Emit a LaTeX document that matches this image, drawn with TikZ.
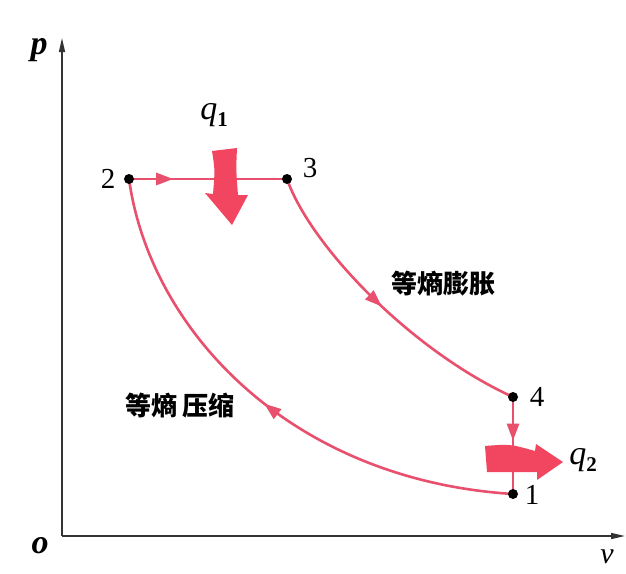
\documentclass[tikz,border=0pt]{standalone}
\usepackage{fontspec}
\setmainfont{Liberation Serif}
\newfontfamily\cjk{Noto Sans CJK SC}
\usetikzlibrary{arrows.meta,decorations.markings}
\definecolor{cycleline}{HTML}{E8506E}
\definecolor{heat}{HTML}{F2455F}
\definecolor{axisline}{HTML}{333333}

\tikzset{
  cyc/.style={cycleline,line width=2.6pt},
  midarrow/.style={postaction={decorate},decoration={markings,
    mark=at position #1 with {\arrow{Triangle[length=17pt,width=12pt]}}}},
  dot/.style={circle,fill=black,inner sep=0pt,minimum size=10pt},
  ptlabel/.style={inner sep=1pt,font=\fontsize{29}{29}\selectfont},
  heatlabel/.style={inner sep=1pt,font=\fontsize{34}{34}\selectfont},
  proc/.style={inner sep=0pt,font=\cjk\bfseries\fontsize{26}{26}\selectfont},
  axislabel/.style={inner sep=0pt,font=\fontsize{34}{34}\selectfont},
}
\newcommand{\heatq}[1]{\textit{q}\raisebox{-7pt}{\fontsize{21}{21}\selectfont\textbf{#1}}}

\begin{document}
\begin{tikzpicture}[x=1pt,y=-1pt,line join=round]
  \useasboundingbox (0,0) rectangle (626,573);
  \fill[white] (0,0) rectangle (626,573);
  % ---- axes ----
  \coordinate (o) at (62,536);
  \coordinate (ptip) at (62,38);
  \coordinate (vtip) at (625,536);
  \draw[axisline,line width=1.4pt,-{Triangle[length=14pt,width=6pt]}] (o) -- (ptip);
  \draw[axisline,line width=1.4pt,-{Triangle[length=14pt,width=6pt]}] (o) -- (vtip);
  \node[axislabel] (plab) at (39,50) {\textbf{\textit{p}}};
  \node[axislabel] (olab) at (40,546) {\textbf{\textit{o}}};
  \node[axislabel,font=\fontsize{30}{30}\selectfont] (vlab) at (607,557) {\textit{v}};

  % ---- state points ----
  \coordinate (p1) at (513,494);
  \coordinate (p2) at (129,179);
  \coordinate (p3) at (287,179);
  \coordinate (p4) at (513,397);

  % ---- cycle ----
  \draw[cyc,midarrow=0.28] (p2) -- (p3);
  \draw[cyc,midarrow=0.5] (p3) .. controls (310,245) and (410,350) .. (p4);
  \draw[cyc,midarrow=0.45] (p4) -- (p1);
  \draw[cyc,midarrow=0.5] (p1) .. controls (290,480) and (150,330) .. (p2);

  % ---- heat in / heat out ----
  \fill[heat] (212,151) .. controls (215,170) .. (213,194) -- (205,193)
    -- (232,225) -- (248,195) -- (238,195) .. controls (236,170) .. (237,148) -- cycle;
  \fill[heat] (485,446) .. controls (510,444) .. (535,451) -- (536,444)
    -- (563,462) -- (537,480) -- (537,472) -- (487,472) -- cycle;

  % ---- points and labels ----
  \foreach \i in {1,...,4}{
    \node[dot] (d\i) at (p\i) {};
  }
  \node[ptlabel] (l1) at (532,495) {1};
  \node[ptlabel] (l2) at (108,179) {2};
  \node[ptlabel] (l3) at (310,168) {3};
  \node[ptlabel] (l4) at (537,397) {4};
  \node[heatlabel] (q1) at (214,115) {\heatq{1}};
  \node[heatlabel] (q2) at (583,460) {\heatq{2}};

  % ---- process names ----
  \node[proc] (expand) at (443,284) {等熵膨胀};
  \node[proc] (compress) at (180,406) {等熵 压缩};
\end{tikzpicture}
\end{document}
